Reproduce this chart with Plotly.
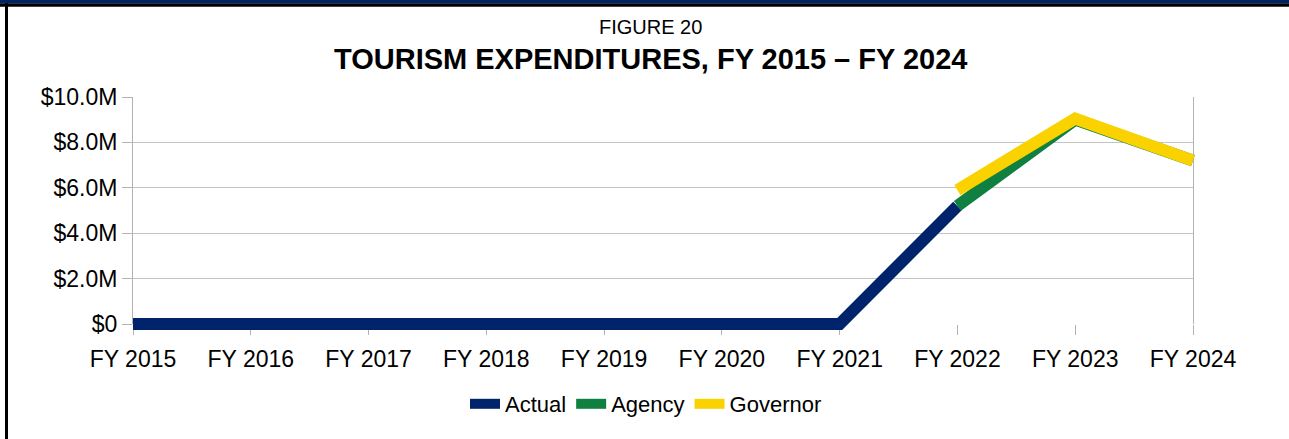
import plotly.graph_objects as go

years = ["FY 2015", "FY 2016", "FY 2017", "FY 2018", "FY 2019",
         "FY 2020", "FY 2021", "FY 2022", "FY 2023", "FY 2024"]
actual = [0, 0, 0, 0, 0, 0, 0, 5.2e6, None, None]
agency = [None, None, None, None, None, None, None, 5.2e6, 9.0e6, 7.2e6]
governor = [None, None, None, None, None, None, None, 5.9e6, 9.05e6, 7.2e6]
ytick_vals = [0, 2e6, 4e6, 6e6, 8e6, 10e6]
ytick_text = ["$0", "$2.0M", "$4.0M", "$6.0M", "$8.0M", "$10.0M"]

series = [("Actual", actual, "#00246B"),
          ("Agency", agency, "#108040"),
          ("Governor", governor, "#FAD200")]

W, H = 1289, 439
# visible plot box (pixels)
X0, X1, Y0, Y1 = 133, 1193, 97, 324
PAD = 8  # extra room so thick lines are not clipped at the axes
L, R, T, B = X0 - PAD, W - X1 - PAD, Y0 - PAD, H - Y1 - PAD
pw, ph = W - L - R, H - T - B

ymax = 10e6
ncat = len(years) - 1
xpad = PAD * ncat / (X1 - X0)
ypad = PAD * ymax / (Y1 - Y0)

fig = go.Figure()
# invisible anchor trace so the visible axes (grid, ticks, labels) are drawn
fig.add_trace(go.Scatter(x=list(range(len(years))), y=actual, mode="lines",
                         line=dict(width=0), opacity=0, showlegend=False,
                         hoverinfo="skip", xaxis="x", yaxis="y"))
for name, vals, col in series:
    fig.add_trace(go.Scatter(x=years, y=vals, name=name, mode="lines",
                             line=dict(color=col, width=12),
                             connectgaps=False, xaxis="x2", yaxis="y2"))

def px(X):
    return (X - L) / pw

def py(Y):
    return (H - B - Y) / ph

fig.update_layout(
    width=W, height=H,
    margin=dict(l=L, r=R, t=T, b=B, autoexpand=False),
    paper_bgcolor="white", plot_bgcolor="rgba(0,0,0,0)",
    font=dict(family="Liberation Sans, Arial, sans-serif", size=23, color="black"),
    showlegend=True,
    legend=dict(orientation="h", xref="paper", yref="paper",
                x=px(646), xanchor="center", y=py(404), yanchor="middle",
                font=dict(size=22), itemwidth=30, tracegroupgap=0,
                bgcolor="rgba(0,0,0,0)"),
    xaxis=dict(type="linear", range=[0, ncat],
               domain=[px(X0), px(X1)], anchor="y",
               tickvals=list(range(len(years))), ticktext=years,
               showgrid=False, ticks="outside", ticklen=10, tickcolor="#b3b3b3",
               ticklabelstandoff=4, fixedrange=True,
               showline=False, zeroline=False, tickfont=dict(size=23)),
    yaxis=dict(range=[0, ymax], domain=[py(Y1), py(Y0)], anchor="x",
               tickvals=ytick_vals, ticktext=ytick_text,
               showgrid=True, gridcolor="#c4c4c4", gridwidth=1,
               ticks="outside", ticklen=10, tickcolor="#b3b3b3",
               showline=True, linecolor="#b3b3b3", linewidth=1, mirror=True,
               zeroline=False, tickfont=dict(size=23), fixedrange=True),
    xaxis2=dict(type="category", range=[-xpad, ncat + xpad], domain=[0, 1],
                anchor="y2", visible=False, showgrid=False, fixedrange=True),
    yaxis2=dict(range=[-ypad, ymax + ypad], domain=[0, 1],
                anchor="x2", visible=False, showgrid=False, fixedrange=True),
    annotations=[
        dict(text="FIGURE 20", xref="paper", yref="paper",
             x=px(650), y=py(27), xanchor="center", yanchor="middle",
             showarrow=False,
             font=dict(family="Liberation Sans, Arial, sans-serif",
                       size=20, color="black")),
        dict(text="<b>TOURISM EXPENDITURES, FY 2015 \u2013 FY 2024</b>",
             xref="paper", yref="paper",
             x=px(650), y=py(59), xanchor="center", yanchor="middle",
             showarrow=False,
             font=dict(family="Liberation Sans, Arial, sans-serif",
                       size=29, color="black")),
    ],
    shapes=[
        dict(type="rect", xref="paper", yref="paper", layer="above",
             x0=px(0), x1=px(W), y0=py(3.3), y1=py(0),
             fillcolor="#002366", line=dict(width=0)),
        dict(type="rect", xref="paper", yref="paper", layer="above",
             x0=px(0), x1=px(W), y0=py(6.7), y1=py(3.3),
             fillcolor="black", line=dict(width=0)),
        dict(type="rect", xref="paper", yref="paper", layer="above",
             x0=px(5), x1=px(8), y0=py(H), y1=py(3.3),
             fillcolor="black", line=dict(width=0)),
    ],
)

fig.write_html("out.html", config={"displayModeBar": False},
               post_script="document.body.style.margin='0';document.body.style.padding='0';")
